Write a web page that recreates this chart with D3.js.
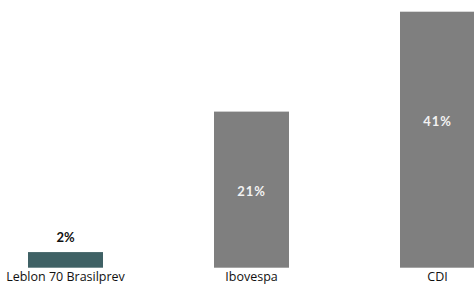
<!DOCTYPE html>
<html><head><meta charset="utf-8">
<script src="https://cdn.jsdelivr.net/npm/d3@7"></script>
<style>
html,body{margin:0;padding:0;background:#fff;overflow:hidden}
svg{display:block}
</style></head>
<body>
<script>
const categories = ["Leblon 70 Brasilprev", "Ibovespa", "CDI"];
const values = [2.5, 25, 41];
const valueLabels = ["2%", "21%", "41%"];
const labelAt = [4.8, 12.3, 23.4];
const colors = ["#3f6165", "#7f7f7f", "#7f7f7f"];
const labelColors = ["#111111", "#f2f2f2", "#f2f2f2"];

const W = 474, H = 285;
const svg = d3.select("body").append("svg").attr("width", W).attr("height", H);

const x = d3.scaleBand().domain(categories)
  .range([-27.5, 530.5]).paddingInner(111/186).paddingOuter(111/372);
const y = d3.scaleLinear().domain([0, 41]).range([267.7, 11.7]);

svg.selectAll("rect.bar").data(categories).join("rect")
  .attr("class", "bar")
  .attr("x", d => x(d))
  .attr("width", x.bandwidth())
  .attr("y", (d, i) => y(values[i]))
  .attr("height", (d, i) => y(0) - y(values[i]))
  .attr("fill", (d, i) => colors[i]);

svg.selectAll("text.val").data(categories).join("text")
  .attr("class", "val")
  .attr("x", d => x(d) + x.bandwidth() / 2)
  .attr("y", (d, i) => y(labelAt[i]))
  .attr("dy", "0.36em")
  .attr("text-anchor", "middle")
  .attr("font-family", "Lato, sans-serif")
  .attr("font-weight", "bold")
  .attr("font-size", "13px")
  .attr("letter-spacing", (d, i) => i === 0 ? "0px" : "1px")
  .attr("fill", (d, i) => labelColors[i])
  .text((d, i) => valueLabels[i]);

const axis = d3.axisBottom(x).tickSize(0).tickPadding(0);
const g = svg.append("g").attr("transform", "translate(0,272)").call(axis);
g.select(".domain").remove();
g.selectAll("text")
  .style("font-family", "'Open Sans', sans-serif")
  .style("font-size", "12.5px")
  .attr("fill", "#111")
  .attr("dy", "0.71em");
</script>
</body></html>
